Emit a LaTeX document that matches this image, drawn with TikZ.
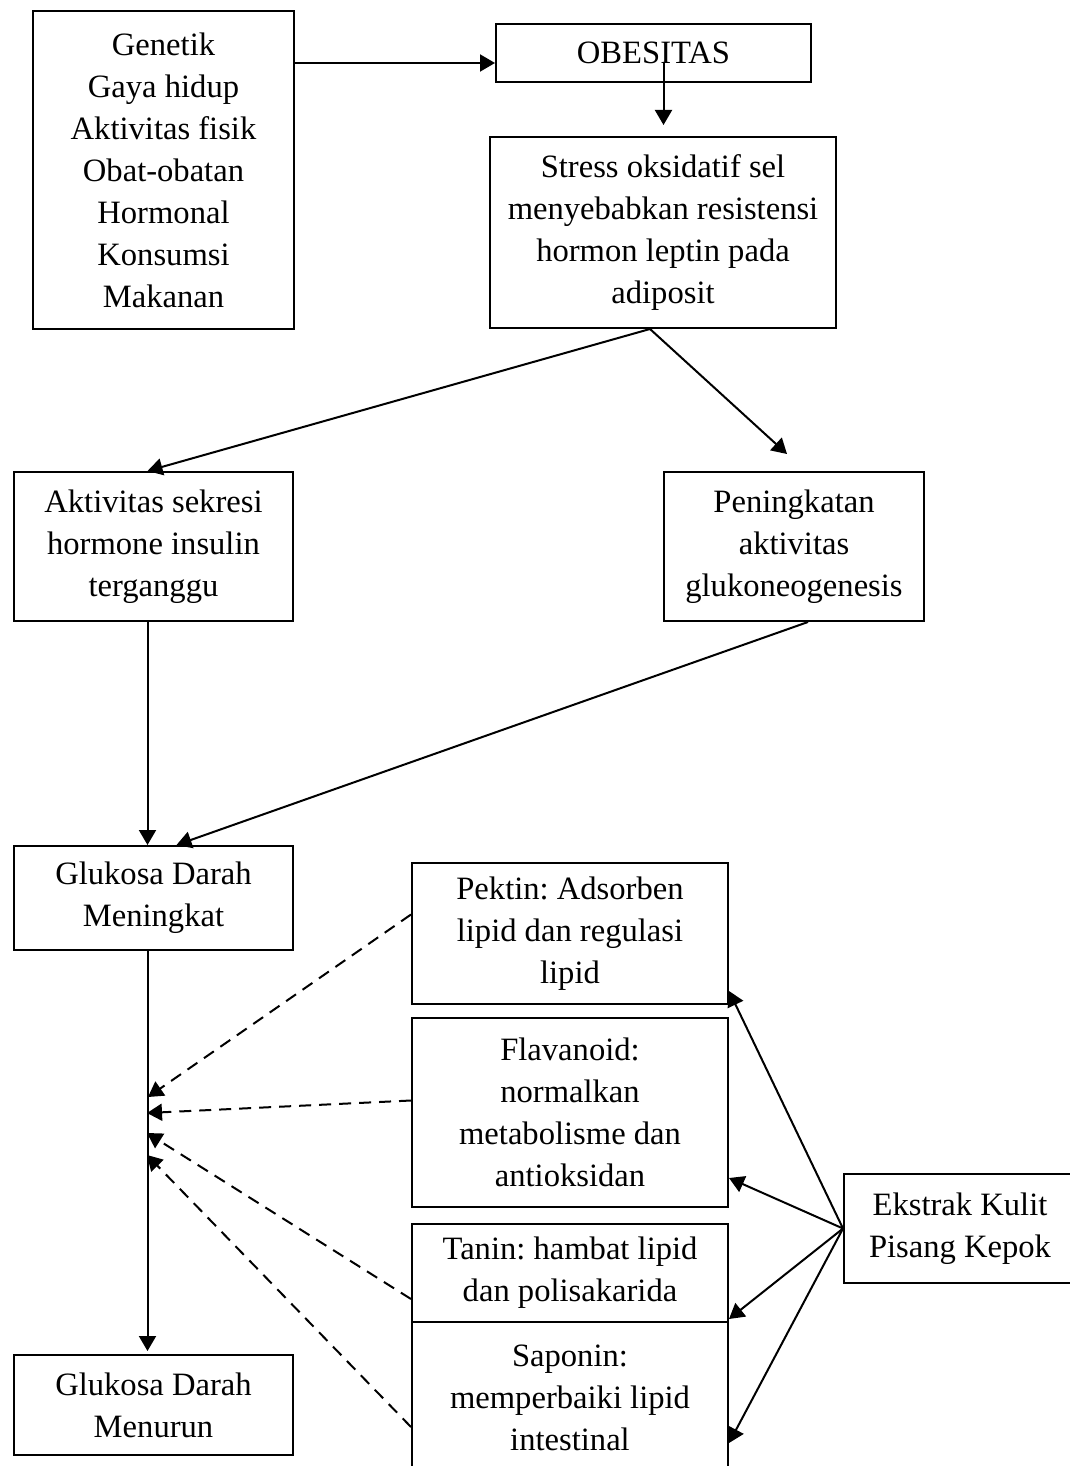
\documentclass[tikz,border=0pt]{standalone}
\usepackage{fontspec}
\setmainfont{Liberation Serif}
\usetikzlibrary{arrows.meta,calc}
\newdimen\pxu \pxu=0.5pt
\tikzset{
  box/.style={draw, line width=1pt, align=center, inner sep=0pt,
    font=\fontsize{16.3}{21}\selectfont\frenchspacing},
  arr/.style={line width=1pt, -{Triangle[length=7.5pt,width=8.5pt]}},
  darr/.style={arr, dash pattern=on 6pt off 4pt},
}
\begin{document}
\begin{tikzpicture}[x=0.5pt, y=-0.5pt]
\useasboundingbox (0,0) rectangle (1070,1466);
\clip (0,0) rectangle (1070,1466);

% boxes
\node[box, minimum width=261\pxu, minimum height=318\pxu] (factors) at (163.5,170)
  {Genetik\\Gaya hidup\\Aktivitas fisik\\Obat-obatan\\Hormonal\\Konsumsi\\Makanan};
\node[box, minimum width=315\pxu, minimum height=58\pxu] (obes) at (653.5,53) {OBESITAS};
\node[box, minimum width=346\pxu, minimum height=191\pxu] (stress) at (663,232.5)
  {Stress oksidatif sel\\menyebabkan resistensi\\hormon leptin pada\\adiposit};
\node[box, minimum width=279\pxu, minimum height=149\pxu] (aktiv) at (153.5,546.5)
  {Aktivitas sekresi\\hormone insulin\\terganggu};
\node[box, minimum width=260\pxu, minimum height=149\pxu] (pen) at (794,546.5)
  {Peningkatan\\aktivitas\\glukoneogenesis};
\node[box, minimum width=279\pxu, minimum height=104\pxu] (gluk) at (153.5,898)
  {Glukosa Darah\\Meningkat};
\node[box, minimum width=279\pxu, minimum height=100\pxu] (turun) at (153.5,1405)
  {Glukosa Darah\\Menurun};
\node[box, minimum width=316\pxu, minimum height=141\pxu] (pektin) at (570,933.5)
  {Pektin: Adsorben\\lipid dan regulasi\\lipid};
\node[box, minimum width=316\pxu, minimum height=189\pxu] (flav) at (570,1112.5)
  {Flavanoid:\\normalkan\\metabolisme dan\\antioksidan};
\node[box, minimum width=316\pxu, minimum height=98\pxu] (tanin) at (570,1273)
  {Tanin: hambat lipid\\dan polisakarida};
\node[box, minimum width=316\pxu, minimum height=152\pxu] (sap) at (570,1398)
  {Saponin:\\memperbaiki lipid\\intestinal};
\node[box, minimum width=232\pxu, minimum height=109\pxu] (ekstrak) at (960,1228.5)
  {Ekstrak Kulit\\Pisang Kepok};

% solid connectors
\coordinate (oin) at ($(obes.west)+(0,10)$);
\draw[arr] (factors.east |- oin) -- (oin);
\coordinate (oout) at ($(obes.center)+(10,10)$);
\draw[arr, shorten >=5.5pt] (oout) -- (oout |- stress.north);
\coordinate (s) at ($(stress.south)+(-13,0)$);
\draw[arr] (s) -- ($(aktiv.north)+(-6,0)$);
\draw[arr] (s) -- ($(pen.north)+(-7,-17)$);
\draw[arr] ($(aktiv.south)+(-6,0)$) -- ($(gluk.north)+(-6,0)$);
\draw[arr] ($(pen.south)+(14,0)$) -- ($(gluk.north)+(23,0)$);
\draw[arr, shorten >=1.5pt] ($(gluk.south)+(-6,0)$) -- ($(turun.north)+(-6,0)$);

% dashed connectors onto the trunk
\coordinate (t1) at (148,1097);
\coordinate (t2) at (147,1113);
\coordinate (t3) at (147,1133);
\coordinate (t4) at (147,1155);
\draw[darr] ($(pektin.west)+(0,-19)$) -- (t1);
\draw[darr] ($(flav.west)+(0,-12)$) -- (t2);
\draw[darr] ($(tanin.west)+(0,26)$) -- (t3);
\draw[darr] ($(sap.west)+(0,29)$) -- (t4);

% connectors from the extract
\draw[arr] (ekstrak.west) -- ($(pektin.south east)+(0,-14)$);
\draw[arr] (ekstrak.west) -- ($(flav.south east)+(0,-30)$);
\draw[arr] (ekstrak.west) -- ($(tanin.south east)+(0,-4)$);
\draw[arr] (ekstrak.west) -- ($(sap.east)+(0,45)$);
\end{tikzpicture}
\end{document}
